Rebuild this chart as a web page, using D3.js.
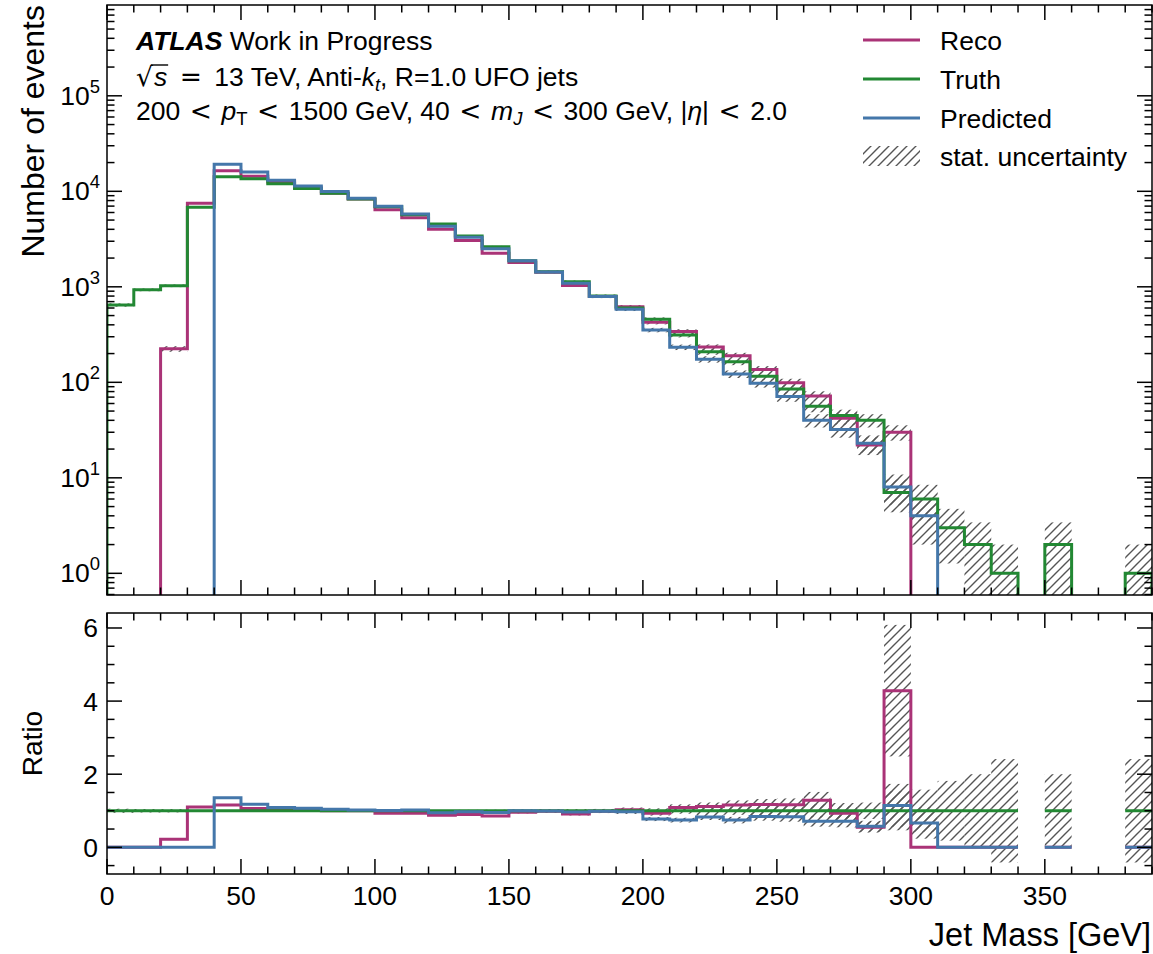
<!DOCTYPE html>
<html><head><meta charset="utf-8">
<script src="https://cdn.jsdelivr.net/npm/d3@7"></script>
<style>body{margin:0;background:#fff} svg{display:block} text{font-family:"Liberation Sans",Arial,Helvetica,sans-serif;fill:#000}</style>
</head><body><svg id="c" width="1153" height="954"></svg>
<script>
// ---- data ----
const binEdges = [0,10,20,30,40,50,60,70,80,90,100,110,120,130,140,150,160,170,180,190,200,210,220,230,240,250,260,270,280,290,300,310,320,330,340,350,360,370,380,390];
const truth = [645,930,1025,6800,14200,13500,12000,10700,9550,8300,6900,5700,4550,3400,2630,1870,1440,1130,801,600,457,313,209,164,116,85,56,45,40,7,6,3,2,1,0,2,0,0,1];
const reco  = [0,0,224,7480,16400,14380,12480,10900,9550,8300,6420,5300,4000,3060,2250,1795,1425,1030,790,618,425,341,234,190,136,99,72,42,22,30,0,0,0,0,0,0,0,0,0];
const pred  = [0,0,0,0,19240,15930,13080,11400,9930,8470,6970,5800,4300,3300,2500,1870,1430,1090,793,582,353,233,174,122,98,71,40,32,23,8,4,0,0,0,0,0,0,0,0];
const seriesNames = ["Reco","Truth","Predicted"];
const seriesColors = ["#AA3377","#228833","#4477AA"];
const xTicksMajor = [0,50,100,150,200,250,300,350];
const ratioTicksMajor = [0,2,4,6];
const logTickExps = [0,1,2,3,4,5];

// ---- layout ----
const L=107,R=1152,T1=5,B1=595,T2=613,B2=874;
const svg=d3.select('#c');
const x=d3.scaleLinear().domain([0,390]).range([L,R]);
const y=d3.scaleLog().domain([0.593,8.93e5]).range([B1,T1]);
const yr=d3.scaleLinear().domain([-0.73,6.41]).range([B2,T2]);
const FAR = 2000;
const FS = 26.5;

const defs=svg.append('defs');
defs.append('clipPath').attr('id','cp1').append('rect').attr('x',L).attr('y',T1).attr('width',R-L).attr('height',B1-T1);
defs.append('clipPath').attr('id','cp2').append('rect').attr('x',L).attr('y',T2).attr('width',R-L).attr('height',B2-T2);
const pat=defs.append('pattern').attr('id','hatch').attr('patternUnits','userSpaceOnUse').attr('width',9).attr('height',9);
pat.append('path').attr('d','M-1,1 L1,-1 M0,9 L9,0 M8,10 L10,8').attr('stroke','#555').attr('stroke-width',1.4).attr('fill','none');

const data=[reco,truth,pred];
const ym=v=>v>0?y(v):FAR;

// ---- main panel ----
const g1=svg.append('g').attr('clip-path','url(#cp1)');
data.forEach(vals=>{
  vals.forEach((n,i)=>{
    if(n<=0) return;
    const s=Math.sqrt(n);
    const top=y(n+s), bot=(n-s)>0?y(n-s):FAR;
    g1.append('rect').attr('x',x(binEdges[i])).attr('width',x(binEdges[i+1])-x(binEdges[i]))
      .attr('y',top).attr('height',bot-top).attr('fill','url(#hatch)');
  });
});
function stepPath(vals){
  let p=`M${x(binEdges[0])},${FAR}`;
  vals.forEach((v,i)=>{p+=`V${ym(v)}H${x(binEdges[i+1])}`;});
  return p+`V${FAR}`;
}
data.forEach((vals,k)=>{
  g1.append('path').attr('d',stepPath(vals)).attr('fill','none').attr('stroke',seriesColors[k]).attr('stroke-width',3);
});

// ---- ratio panel ----
const g2=svg.append('g').attr('clip-path','url(#cp2)');
data.forEach(vals=>{
  vals.forEach((n,i)=>{
    const t=truth[i];
    if(n<=0||t<=0) return;
    const r=n/t, e=r*Math.sqrt(1/n+1/t);
    g2.append('rect').attr('x',x(binEdges[i])).attr('width',x(binEdges[i+1])-x(binEdges[i]))
      .attr('y',yr(r+e)).attr('height',yr(r-e)-yr(r+e)).attr('fill','url(#hatch)');
  });
});
function ratioPath(vals){
  let p='',prev=false;
  vals.forEach((n,i)=>{
    const t=truth[i];
    if(t<=0){prev=false;return;}
    const yy=yr(n/t);
    p+= prev?`V${yy}H${x(binEdges[i+1])}`:`M${x(binEdges[i])},${yy}H${x(binEdges[i+1])}`;
    prev=true;
  });
  return p;
}
data.forEach((vals,k)=>{
  g2.append('path').attr('d',ratioPath(vals)).attr('fill','none').attr('stroke',seriesColors[k]).attr('stroke-width',3);
});

// ---- axes ----
const ax=svg.append('g').attr('stroke','#000').attr('stroke-width',1.5);
[[T1,B1],[T2,B2]].forEach(([t,b])=>{
  ax.append('rect').attr('x',L).attr('y',t).attr('width',R-L).attr('height',b-t).attr('fill','none');
  for(let v=0; v<=390; v+=10){
    const len = xTicksMajor.includes(v)?15:7.5, xx=x(v);
    ax.append('line').attr('x1',xx).attr('x2',xx).attr('y1',b).attr('y2',b-len);
    ax.append('line').attr('x1',xx).attr('x2',xx).attr('y1',t).attr('y2',t+len);
  }
});
for(let d=-1; d<=5; d++){
  for(let k=1;k<=9;k++){
    const v=k*Math.pow(10,d);
    if(v<y.domain()[0]||v>y.domain()[1]) continue;
    const len=k===1?15:7.5, yy=y(v);
    ax.append('line').attr('x1',L).attr('x2',L+len).attr('y1',yy).attr('y2',yy);
    ax.append('line').attr('x1',R).attr('x2',R-len).attr('y1',yy).attr('y2',yy);
  }
}
for(let v=-0.5; v<=6.4; v+=0.5){
  const len=ratioTicksMajor.includes(v)?15:7.5, yy=yr(v);
  ax.append('line').attr('x1',L).attr('x2',L+len).attr('y1',yy).attr('y2',yy);
  ax.append('line').attr('x1',R).attr('x2',R-len).attr('y1',yy).attr('y2',yy);
}

// ---- tick labels ----
logTickExps.forEach(e=>{
  const t=svg.append('text').attr('x',100).attr('y',y(Math.pow(10,e))+9).attr('text-anchor','end').style('font-size',FS+'px');
  t.append('tspan').text('10');
  t.append('tspan').attr('dy',-12).style('font-size','18.5px').text(e);
});
ratioTicksMajor.forEach(v=>{
  svg.append('text').attr('x',98).attr('y',yr(v)+9.5).attr('text-anchor','end').style('font-size',FS+'px').text(v);
});
xTicksMajor.forEach(v=>{
  svg.append('text').attr('x',x(v)).attr('y',905).attr('text-anchor','middle').style('font-size',FS+'px').text(v);
});

// axis labels
svg.append('text').attr('transform',`translate(44,${T1}) rotate(-90)`).attr('text-anchor','end').style('font-size','32px').text('Number of events');
svg.append('text').attr('transform',`translate(42,${(T2+B2)/2}) rotate(-90)`).attr('text-anchor','middle').style('font-size','28px').text('Ratio');
svg.append('text').attr('x',R-1).attr('y',946).attr('text-anchor','end').style('font-size','32.5px').text('Jet Mass [GeV]');

// ---- annotation text ----
function runs(sel, list){
  list.forEach(r=>{
    const ts=sel.append('tspan').text(r.t);
    if(r.it) ts.style('font-style','italic');
    if(r.b) ts.style('font-weight','bold');
    if(r.fs) ts.style('font-size',r.fs+'px');
    if(r.m) ts.style('font-family','"DejaVu Sans",sans-serif');
    if(r.dy) ts.attr('dy',r.dy);
    if(r.dx) ts.attr('dx',r.dx);
  });
}
const t1=svg.append('text').attr('x',136).attr('y',50).style('font-size',FS+'px');
runs(t1,[{t:'ATLAS',b:1,it:1},{t:' Work in Progress'}]);

const REL=9.5;
const t2=svg.append('text').attr('x',136).attr('y',86).style('font-size',FS+'px');
runs(t2,[{t:'\u221A',m:1},{t:'s',it:1,dx:1},{t:'=',m:1,dx:REL+3},{t:'13 TeV, Anti-',dx:REL+3},{t:'k',it:1},{t:'t',it:1,fs:18.5,dy:5},{t:', R=1.0 UFO jets',dy:-5}]);
try{
  const e0=t2.node().getExtentOfChar(0), e1=t2.node().getExtentOfChar(1);
  svg.append('line').attr('x1',e0.x+e0.width-2).attr('x2',e1.x+e1.width+1)
    .attr('y1',e0.y+4).attr('y2',e0.y+4).attr('stroke','#000').attr('stroke-width',1.4);
}catch(e){}

const t3=svg.append('text').attr('x',136).attr('y',120).style('font-size',FS+'px');
runs(t3,[{t:'200'},{t:'<',m:1,dx:REL},{t:'p',it:1,dx:REL},{t:'T',fs:18.5,dy:5},{t:'<',m:1,dy:-5,dx:REL},{t:'1500 GeV, 40',dx:REL},
  {t:'<',m:1,dx:REL},{t:'m',it:1,dx:REL},{t:'J',it:1,fs:18.5,dy:5},{t:'<',m:1,dy:-5,dx:REL},{t:'300 GeV, |',dx:REL},{t:'\u03B7',it:1},{t:'|'},{t:'<',m:1,dx:REL},{t:'2.0',dx:REL}]);

// ---- legend ----
const legY=[40,79,118];
seriesNames.forEach((nm,k)=>{
  svg.append('line').attr('x1',863).attr('x2',920).attr('y1',legY[k]).attr('y2',legY[k]).attr('stroke',seriesColors[k]).attr('stroke-width',3.2);
  svg.append('text').attr('x',940).attr('y',legY[k]+9.5).style('font-size',FS+'px').text(nm);
});
svg.append('rect').attr('x',863).attr('y',146).attr('width',57).attr('height',20).attr('fill','url(#hatch)');
svg.append('text').attr('x',940).attr('y',166).style('font-size',FS+'px').text('stat. uncertainty');
</script></body></html>
